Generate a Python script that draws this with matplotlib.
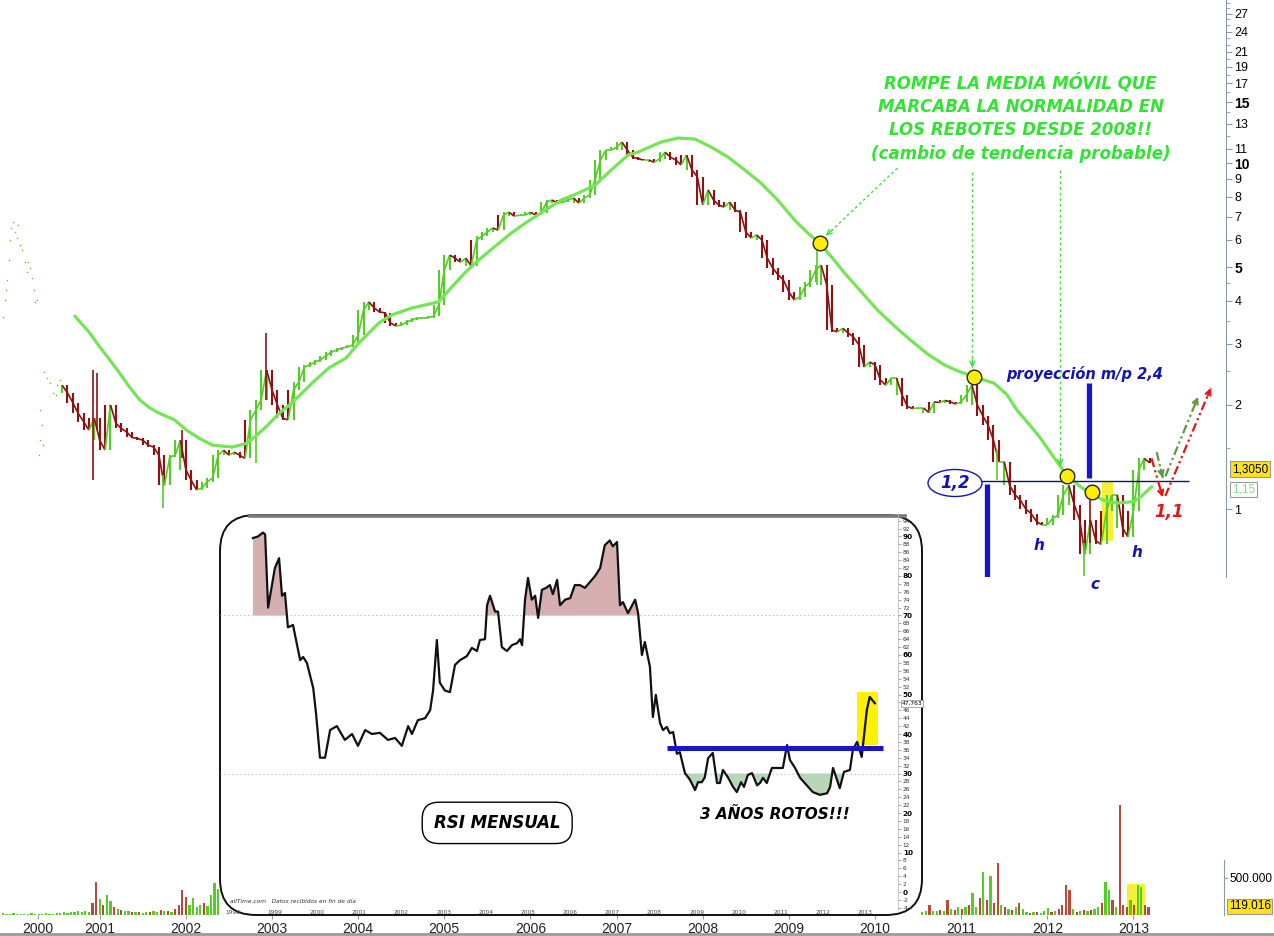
import numpy as np
import matplotlib
matplotlib.use("Agg")
import matplotlib.pyplot as plt
from matplotlib.collections import LineCollection
from matplotlib.patches import FancyBboxPatch, Ellipse, Rectangle
from matplotlib.lines import Line2D
from matplotlib.ticker import FixedLocator, FixedFormatter, NullFormatter

plt.rcParams["font.family"] = ["DejaVu Sans"]

# ---- price data (weekly-ish closes, 16 per year from 2000.5625) ----
closes = [
    2.28, 2.17, 2.03, 1.89, 1.79, 1.69, 1.83, 1.58, 1.48, 2.00,
    1.77, 1.71, 1.67, 1.61, 1.60, 1.58, 1.53, 1.51, 1.43, 1.17,
    1.41, 1.43, 1.58, 1.30, 1.21, 1.135, 1.15, 1.20, 1.23, 1.43,
    1.48, 1.43, 1.46, 1.43, 1.40, 1.81, 1.93, 2.07, 2.52, 2.21,
    2.00, 1.83, 1.81, 2.21, 2.33, 2.57, 2.61, 2.66, 2.70, 2.77,
    2.84, 2.88, 2.92, 2.94, 2.98, 3.18, 3.76, 3.97, 3.81, 3.71,
    3.69, 3.45, 3.38, 3.40, 3.47, 3.52, 3.57, 3.57, 3.57, 3.61,
    3.89, 4.91, 5.42, 5.31, 5.17, 5.31, 5.04, 5.99, 6.15, 6.32,
    6.49, 6.40, 7.07, 7.21, 7.02, 7.07, 7.07, 7.21, 7.07, 7.17,
    7.71, 7.82, 7.66, 7.71, 7.82, 7.92, 7.66, 7.92, 8.08, 8.93,
    10.2, 10.9, 10.9, 11.1, 11.5, 10.9, 10.4, 10.3, 10.2, 10.2,
    10.05, 10.3, 10.75, 10.4, 10.2, 9.87, 10.55, 9.55, 9.12, 7.56,
    8.36, 7.82, 7.56, 7.46, 7.71, 7.31, 7.21, 6.32, 6.07, 6.20,
    5.99, 5.31, 4.97, 4.75, 4.59, 4.24, 4.02, 4.10, 4.39, 4.53,
    4.91, 5.07, 4.45, 3.29, 3.25, 3.33, 3.23, 3.14, 2.98, 2.57,
    2.66, 2.61, 2.36, 2.28, 2.39, 2.39, 2.14, 1.98, 1.95, 1.96,
    1.96, 1.90, 2.04, 2.03, 2.06, 2.04, 2.01, 2.04, 2.14, 2.28,
    2.00, 1.86, 1.75, 1.58, 1.37, 1.37, 1.17, 1.10, 1.06, 1.00,
    0.97, 0.92, 0.90, 0.90, 0.94, 0.96, 1.10, 1.17, 1.03, 0.93,
    0.74, 0.93, 0.81, 0.79, 0.99, 1.10, 1.10, 0.88, 0.83, 0.99,
    1.30, 1.40, 1.36,
]
price_start = 2000.5625

# single-day spikes: year, low, high, up
spike_t = [2000.92, 2000.965, 2001.73, 2001.96, 2002.82, 2002.93, 2009.33, 2011.42, 2012.42, 2012.49]
spike_lo = [1.21, 1.69, 1.01, 1.40, 1.36, 2.07, 4.45, 1.21, 0.64, 0.80]
spike_hi = [2.52, 2.47, 1.25, 1.69, 1.81, 3.22, 5.61, 1.48, 0.80, 1.08]
spike_up = [0, 0, 1, 0, 1, 0, 1, 1, 1, 0]

# sparse early quotes (dotted)
dot_t = [1999.877, 1999.90, 1999.91, 1999.92, 1999.95, 1999.96, 1999.97, 1999.99, 2000.02, 2000.04,
         2000.05, 2000.07, 2000.10, 2000.13, 2000.16, 2000.17, 2000.19, 2000.21, 2000.24, 2000.25,
         2000.27, 2000.31, 2000.33, 2000.31, 2000.34, 2000.29, 2000.35, 2000.39, 2000.42, 2000.46,
         2000.49, 2000.51, 2000.54]
dot_p = [3.59, 4.02, 4.30, 4.59, 5.24, 5.99, 6.49, 6.75, 6.32, 6.07,
         6.62, 5.80, 5.61, 5.17, 4.84, 5.17, 4.97, 4.65, 4.30, 3.97,
         4.02, 1.93, 1.75, 1.58, 1.53, 1.43, 2.49, 2.39, 2.31, 2.17,
         2.14, 2.28, 2.36]

# moving average
ma_t = [2000.711, 2000.884, 2001.000, 2001.116, 2001.231, 2001.347, 2001.463, 2001.579, 2001.694, 2001.868,
        2002.007, 2002.157, 2002.308, 2002.539, 2002.713, 2002.829, 2002.933, 2003.083, 2003.234, 2003.465,
        2003.662, 2003.859, 2004.009, 2004.241, 2004.391, 2004.623, 2004.935, 2005.086, 2005.248, 2005.398,
        2005.595, 2005.780, 2005.977, 2006.174, 2006.359, 2006.556, 2006.752, 2006.938, 2007.134, 2007.250,
        2007.516, 2007.713, 2007.910, 2008.095, 2008.292, 2008.488, 2008.674, 2008.870, 2009.067, 2009.218,
        2009.356, 2009.507, 2009.646, 2009.831, 2010.028, 2010.225, 2010.410, 2010.606, 2010.803, 2010.954,
        2011.150, 2011.382, 2011.532, 2011.648, 2011.787, 2011.914, 2012.076, 2012.227, 2012.366, 2012.493,
        2012.655, 2012.806, 2013.002, 2013.095, 2013.211]
ma_p = [3.61, 3.23, 2.94, 2.70, 2.47, 2.25, 2.07, 1.96, 1.89, 1.81,
        1.69, 1.60, 1.53, 1.51, 1.55, 1.64, 1.73, 1.89, 2.03, 2.31,
        2.56, 2.73, 3.02, 3.45, 3.64, 3.81, 3.97, 4.38, 4.84, 5.24,
        5.76, 6.28, 6.80, 7.31, 7.82, 8.19, 8.64, 9.55, 10.55, 10.76,
        11.50, 11.81, 11.73, 11.13, 10.41, 9.55, 8.76, 7.82, 6.84, 6.28,
        5.87, 5.31, 4.81, 4.27, 3.76, 3.38, 3.08, 2.81, 2.61, 2.51,
        2.41, 2.31, 2.14, 1.93, 1.76, 1.61, 1.41, 1.25, 1.17, 1.11,
        1.06, 1.04, 1.05, 1.09, 1.16]

circ_t = [2009.356, 2011.150, 2012.227, 2012.52]
circ_p = [5.87, 2.41, 1.246, 1.12]

price_ticks = [1, 2, 3, 4, 5, 6, 7, 8, 9, 10, 11, 13, 15, 17, 19, 21, 24, 27]
price_minor = [1.5, 2.5, 3.5, 4.5, 12, 14, 16, 18, 20, 22, 23, 25, 26, 28, 29]
year_labels = [str(y) for y in range(2000, 2014)]
year_pos = [2000.28] + list(range(2001, 2014))

# ---- volume (thousands, 24 per year) ----
vol_left = [27, 14, 14, 27, 14, 14, 14, 14, 27, 14, 14, 14, 27, 14, 14, 27,
            27, 40, 27, 40, 40, 54, 40, 54, 40,
            162, 446, 216, 135, 270, 189, 108, 81, 68, 54,
            54, 40, 40, 40, 27, 40, 40, 54, 40, 68,
            54, 54, 40, 81, 135, 338, 243, 135, 230, 108,
            135, 162, 122, 270, 432, 351]
vol_left_col = "ggggggggggggggggggggggggg" + "rrgrggrgrg" + "grgrggrggr" + "grgrrrrggg" + "grgggg"
vol_left_start = 1999.875
vol_right = [40, 54, 135, 54, 54, 68, 54, 203, 81, 68,
             108, 81, 108, 135, 297, 108, 230, 581, 203, 527,
             162, 702, 135, 108, 81, 68, 108, 162, 81, 40,
             27, 40, 40, 27, 54, 95, 40, 54, 81, 135,
             405, 338, 81, 40, 54, 68, 54, 68, 81, 108,
             162, 446, 338, 203, 108, 1485, 135, 108, 203, 135,
             405, 378, 135, 108]
vol_right_col = "ggrggrgrgr" "grgrggrgrg" "rrgrgrgrgg" "rgrgggrgrr" "rrgrgrgrgg" "rggrgrrrgr" "ggrr"
vol_right_start = 2010.549
vol_last = 119.016

# ---- monthly RSI ----
rsi_t = [1998.48, 1998.60, 1998.72, 1998.77, 1998.84, 1999.00, 1999.10, 1999.17, 1999.24, 1999.31,
         1999.43, 1999.60, 1999.67, 1999.76, 1999.91, 1999.98, 2000.07, 2000.19, 2000.31, 2000.47,
         2000.66, 2000.83, 2000.97, 2001.14, 2001.30, 2001.49, 2001.68, 2001.85, 2002.01, 2002.16,
         2002.25, 2002.39, 2002.56, 2002.68, 2002.75, 2002.84, 2002.91, 2003.03, 2003.15, 2003.27,
         2003.39, 2003.55, 2003.67, 2003.79, 2003.86, 2003.98, 2004.03, 2004.10, 2004.22, 2004.29,
         2004.38, 2004.50, 2004.62, 2004.74, 2004.81, 2004.86, 2004.93, 2005.00, 2005.09, 2005.17,
         2005.24, 2005.33, 2005.43, 2005.52, 2005.59, 2005.69, 2005.76, 2005.88, 2006.00, 2006.11,
         2006.23, 2006.35, 2006.47, 2006.59, 2006.71, 2006.82, 2006.94, 2007.01, 2007.11, 2007.18,
         2007.25, 2007.37, 2007.54, 2007.61, 2007.70, 2007.77, 2007.89, 2007.96, 2008.03, 2008.13,
         2008.20, 2008.29, 2008.36, 2008.44, 2008.53, 2008.60, 2008.72, 2008.84, 2008.96, 2009.03,
         2009.12, 2009.19, 2009.27, 2009.38, 2009.48, 2009.55, 2009.62, 2009.74, 2009.86, 2009.95,
         2010.05, 2010.12, 2010.21, 2010.31, 2010.43, 2010.50, 2010.57, 2010.66, 2010.78, 2010.90,
         2011.04, 2011.14, 2011.21, 2011.33, 2011.45, 2011.61, 2011.75, 2011.92, 2012.09, 2012.16,
         2012.23, 2012.39, 2012.49, 2012.63, 2012.70, 2012.80, 2012.91, 2013.03, 2013.10, 2013.22]
rsi_v = [89.6, 90, 91, 90.5, 72, 82, 84.5, 75, 75.7, 67,
         67.6, 58.7, 59.5, 58, 51.6, 44.8, 34, 34, 41, 42,
         38.5, 40, 37, 41, 40, 40.3, 38.5, 39, 37, 42,
         40, 43.5, 44, 46, 51, 63.8, 53, 51, 50.6, 57.5,
         58.7, 59.7, 61.8, 61, 63.8, 64, 72.6, 75, 71, 71,
         62, 61, 62.5, 63, 64, 62.5, 74, 79.5, 74, 75,
         69.4, 76.5, 77, 77.7, 75.4, 79, 72.6, 74, 74.4, 77.7,
         77.7, 77, 78.5, 80, 82, 87.8, 89, 87.5, 88.6, 72.6,
         73.4, 70.6, 74, 70.6, 60, 63.3, 57, 44.3, 49.9, 42.8,
         41, 41.8, 40.2, 40.5, 35, 35.4, 30.1, 28.4, 25.8, 27.8,
         27.8, 29, 33.9, 35.2, 27.6, 27.6, 30.9, 29, 26.6, 25.3,
         27.8, 26.6, 29.6, 30.1, 27, 27.6, 28.9, 27.6, 31.4, 31.4,
         31.4, 37.2, 33.4, 31.4, 28.9, 27, 25.3, 24.6, 25, 26.6,
         31.4, 26.3, 30.4, 30.9, 36, 38, 34.2, 46, 49.4, 47.8]
rsi_last = 47.763

GREEN = "#55cc28"
RED = "#8e1212"
BLUE = "#1414b4"
ANN_GREEN = "#33e333"
W, H = 1274, 936

fig = plt.figure(figsize=(W / 100, H / 100), dpi=100)


def box(x0, y0, x1, y1):
    return [x0 / W, 1 - y1 / H, (x1 - x0) / W, (y1 - y0) / H]


def head(a, p0, p1, color, lw=1.2):
    d0 = a.transData.transform(p0)
    d1 = a.transData.transform(p1)
    v = d0 - d1
    v = v / np.hypot(*v) * 6
    a.annotate("", xy=p1, xytext=(v[0], v[1]), textcoords="offset points",
               arrowprops=dict(arrowstyle="->", color=color, lw=lw, shrinkA=0, shrinkB=0,
                               mutation_scale=9), zorder=7)


# ================= price panel =================
ax = fig.add_axes(box(0, 0, 1226, 577))
ax.set_yscale("log")
ax.set_xlim(1999.8426, 2014.0741)
ax.set_ylim(0.636, 29.6)
for s in ["left", "top", "bottom"]:
    ax.spines[s].set_visible(False)
ax.spines["right"].set_color("#8a9aa8")
ax.yaxis.tick_right()
ax.yaxis.set_major_locator(FixedLocator(price_ticks))
ax.yaxis.set_major_formatter(FixedFormatter([str(v) for v in price_ticks]))
ax.yaxis.set_minor_locator(FixedLocator(price_minor))
ax.yaxis.set_minor_formatter(NullFormatter())
ax.tick_params(axis="y", which="major", length=4, color="#8a9aa8", labelsize=9, pad=2)
ax.tick_params(axis="y", which="minor", length=3, color="#8a9aa8")
for lab in ax.get_yticklabels():
    lab.set_fontfamily("Liberation Sans")
    if lab.get_text() in ("5", "10", "15"):
        lab.set_fontweight("bold")
        lab.set_fontsize(10)
ax.set_xticks([])

t = price_start + np.arange(len(closes)) / 16.0
c = np.array(closes)
pts = np.column_stack([t, c])
segs = np.stack([pts[:-1], pts[1:]], axis=1)
cols = np.where(c[1:] >= c[:-1], GREEN, RED)
# each bar spans the previous, current and next close
prev_c = np.concatenate([[c[0]], c[:-1]])
next_c = np.concatenate([c[1:], [c[-1]]])
bar_lo = np.minimum(np.minimum(prev_c, c), next_c)
bar_hi = np.maximum(np.maximum(prev_c, c), next_c)
bar_cols = np.where(c >= prev_c, GREEN, RED)
ax.vlines(t, bar_lo, bar_hi, colors=bar_cols, lw=1.5, zorder=3)
ax.add_collection(LineCollection(segs, colors=cols, linewidths=1.2, zorder=3))
ax.vlines(spike_t, spike_lo, spike_hi, colors=[GREEN if u else RED for u in spike_up], lw=1.2, zorder=3)
ax.scatter(dot_t, dot_p, s=1.2, color=GREEN, lw=0, zorder=3)

ax.plot(ma_t, ma_p, color="#74e656", lw=2.3, zorder=4, solid_capstyle="round")

# yellow highlight
ax.fill_between([2012.632, 2012.759], 0.81, 1.20, color="#f6ef3a", lw=0, zorder=2)

# horizontal 1,2 line and projection bars
ax.hlines(1.205, 2011.023, 2013.639, color="#101078", lw=1, zorder=5)
ax.vlines([2011.301], 0.636, 1.18, color="#1616c8", lw=3.8, zorder=5)
ax.vlines([2012.481], 1.23, 2.31, color="#1616c8", lw=3.8, zorder=5)

ax.plot(circ_t, circ_p, "o", ms=10.5, mfc="#ffee00", mec="#222222", mew=1, zorder=6)

ax.add_patch(Ellipse((955 / 1226, 1 - 483 / 577), 54 / 1226, 27 / 577, transform=ax.transAxes,
                     fc="white", ec=BLUE, lw=1, zorder=6))
ax.text(955 / 1226, 1 - 483 / 577, "1,2", transform=ax.transAxes, ha="center", va="center",
        color=BLUE, fontsize=12, fontweight="bold", fontstyle="italic", zorder=7)

bi = dict(fontweight="bold", fontstyle="italic")
ax.text(2012.435, 2.456, "proyección m/p 2,4", ha="center", va="center", color=BLUE, fontsize=10.5, **bi)
ax.text(2011.90, 0.782, "h", ha="center", va="center", color=BLUE, fontsize=11, **bi)
ax.text(2013.04, 0.751, "h", ha="center", va="center", color=BLUE, fontsize=11, **bi)
ax.text(2012.55, 0.607, "c", ha="center", va="center", color=BLUE, fontsize=11, **bi)
ax.text(2013.41, 0.98, "1,1", ha="center", va="center", color="#e01818", fontsize=12, **bi)

ax.text(2011.69, 13.5, "ROMPE LA MEDIA MÓVIL QUE\nMARCABA LA NORMALIDAD EN\nLOS REBOTES DESDE 2008!!\n(cambio de tendencia probable)",
        ha="center", va="center", color=ANN_GREEN, fontsize=12, linespacing=1.38, **bi)

# arrows from the annotation
arrows = [((2010.26, 9.67), (2009.43, 6.16)), ((2011.13, 9.42), (2011.13, 2.56)),
          ((2012.15, 9.55), (2012.15, 1.33))]
for p0, p1 in arrows:
    ax.plot([p0[0], p1[0]], [p0[1], p1[1]], color="#44dd44", lw=1, ls=(0, (2, 2)), zorder=5)
    head(ax, p0, p1, "#44dd44", lw=1)

# scenario arrows
g_path = [(2013.27, 1.46), (2013.34, 1.23), (2013.75, 2.11)]
r_path = [(2013.21, 1.40), (2013.34, 1.08), (2013.90, 2.24)]
for path, col in ((g_path, "#5f9a3c"), (r_path, "#e01818")):
    xs, ys = zip(*path)
    ax.plot(xs[:2], ys[:2], color=col, lw=1.6, ls=(0, (4, 1.5, 1, 1.5, 1, 1.5)), zorder=5)
    ax.plot([xs[1] + 0.03, xs[2]], [ys[1] * 1.01, ys[2]], color=col, lw=1.6,
            ls=(0, (4, 1.5, 1, 1.5, 1, 1.5)), zorder=5)
    head(ax, path[0], path[1], col, lw=1.6)
    head(ax, (xs[1] + 0.03, ys[1] * 1.01), path[2], col, lw=1.6)

yt = ax.get_yaxis_transform()
ax.text(1.005, 1.305, "1,3050", transform=yt, ha="left", va="center", fontsize=8.5,
        fontfamily="Liberation Sans", bbox=dict(boxstyle="square,pad=0.15", fc="#ffe21a", ec="#999999", lw=0.8))
ax.text(1.005, 1.14, "1,15", transform=yt, ha="left", va="center", fontsize=8.5, color="#8fd88f",
        fontfamily="Liberation Sans", bbox=dict(boxstyle="square,pad=0.15", fc="white", ec="#999999", lw=0.8))

# ================= volume panel =================
vax = fig.add_axes(box(0, 790, 1224, 915))
vax.patch.set_alpha(0)
vax.set_xlim(1999.8426, 2014.0509)
vax.set_ylim(0, 1689)
for s in ["left", "top", "bottom"]:
    vax.spines[s].set_visible(False)
vax.spines["right"].set_color("#8a9aa8")
vax.spines["right"].set_bounds(0, 743)
vl_t = vol_left_start + np.arange(len(vol_left)) / 24.0
vr_t = vol_right_start + np.arange(len(vol_right)) / 24.0
vax.bar(vl_t, vol_left, width=0.026, color=[GREEN if k == "g" else "#b84a3a" for k in vol_left_col], lw=0)
vax.bar(vr_t, vol_right, width=0.026, color=[GREEN if k == "g" else "#b84a3a" for k in vol_right_col], lw=0)
vax.add_patch(Rectangle((2012.921, 0), 0.21, 420, fc="#f6ef3a", ec="none", zorder=0.5))
vax.yaxis.tick_right()
vax.set_yticks([500])
vax.set_yticklabels(["500.000"], fontfamily="Liberation Sans", fontsize=8.5)
vax.tick_params(axis="y", length=3, color="#8a9aa8", pad=1)
vax.text(1.004, vol_last, "119.016", transform=vax.get_yaxis_transform(), ha="left", va="center",
         fontsize=8.5, fontfamily="Liberation Sans",
         bbox=dict(boxstyle="square,pad=0.12", fc="#ffe21a", ec="#999999", lw=0.8))
vax.set_xticks(year_pos)
vax.set_xticklabels(year_labels, fontfamily="Liberation Sans", fontsize=10, color="#222222")
vax.tick_params(axis="x", length=3, color="#999999", pad=2)

fig.add_artist(Line2D([0, 1], [1 - 934 / H] * 2, color="#9a9a9a", lw=2))

# ================= RSI inset panel =================
panel = FancyBboxPatch((2.20, (H - 915) / 100), 7.02, 4.00, boxstyle="round,pad=0,rounding_size=0.36",
                       transform=fig.dpi_scale_trans, fc="white", ec="#111111", lw=1.4, zorder=2)
fig.add_artist(panel)
fig.add_artist(Line2D([2.50 / 12.74, 9.05 / 12.74], [1 - 516 / H] * 2, color="#7a7a7a", lw=2.6, zorder=2.1))

rax = fig.add_axes(box(220, 515, 898, 909), zorder=3)
rax.patch.set_alpha(0)
rax.set_xlim(1997.70, 2013.77)
rax.set_ylim(-4.30, 95.44)
for s in ["left", "top", "bottom"]:
    rax.spines[s].set_visible(False)
rax.spines["right"].set_color("#bbbbbb")
rax.spines["right"].set_linewidth(0.6)
rax.yaxis.tick_right()
rsi_ticks = list(range(-4, 95, 2))
rax.set_yticks(rsi_ticks)
rax.set_yticklabels([str(v) for v in rsi_ticks], fontsize=4.2, color="#333333")
for lab in rax.get_yticklabels():
    if int(lab.get_text()) % 10 == 0:
        lab.set_fontweight("bold")
        lab.set_fontsize(5.2)
        lab.set_color("#000000")
    if lab.get_text() == "48":
        lab.set_visible(False)
rax.tick_params(axis="y", length=2, width=0.5, color="#888888", pad=1.5)
rax.set_xticks(range(1998, 2014))
rax.set_xticklabels([str(y) for y in range(1998, 2014)], fontsize=4.2, color="#444444")
rax.tick_params(axis="x", length=0, pad=1)

rv = np.array(rsi_v)
rax.axhline(70, color="#c8c8c8", lw=0.8, ls=(0, (1.5, 2)))
rax.axhline(30, color="#c8c8c8", lw=0.8, ls=(0, (1.5, 2)))
rax.fill_between(rsi_t, rv, 70, where=rv >= 70, interpolate=True, color="#d6b0b0", lw=0)
rax.fill_between(rsi_t, rv, 30, where=rv <= 30, interpolate=True, color="#b6d8b6", lw=0)
rax.add_patch(Rectangle((2012.80, 37.2), 0.49, 13.4, fc="#fff200", ec="none", zorder=1))
rax.plot(rsi_t, rv, color="#111111", lw=1.6, zorder=3)
rax.hlines(36.5, 2008.29, 2013.41, color="#1616c8", lw=3.6, zorder=4)
rax.text(1.006, rsi_last, "47,763", transform=rax.get_yaxis_transform(), ha="left", va="center",
         fontsize=4.2, bbox=dict(boxstyle="square,pad=0.15", fc="white", ec="#888888", lw=0.5))

rax.text(2004.27, 17.5, "RSI MENSUAL", ha="center", va="center", fontsize=12, color="black",
         bbox=dict(boxstyle="round,pad=0.7,rounding_size=1.0", fc="white", ec="black", lw=1), **bi)
rax.text(2010.85, 19.5, "3 AÑOS ROTOS!!!", ha="center", va="center", fontsize=11, color="black", **bi)
rax.text(0.015, 0.012, "allTime.com   Datos recibidos en fin de día", transform=rax.transAxes,
         fontsize=4.2, fontstyle="italic", color="#333333", ha="left", va="bottom")

fig.savefig("out.png", dpi=100, facecolor="white")
